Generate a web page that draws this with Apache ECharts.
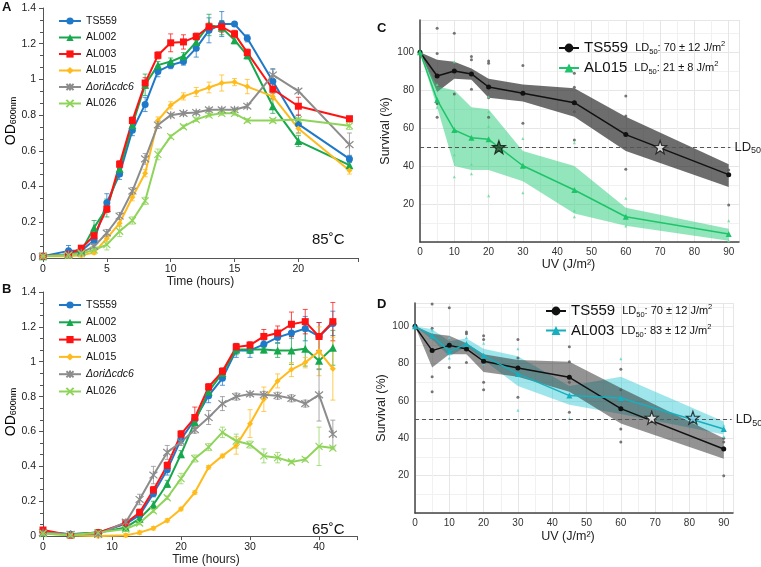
<!DOCTYPE html>
<html><head><meta charset="utf-8">
<script src="https://cdn.jsdelivr.net/npm/echarts@6/dist/echarts.min.js"></script>
<style>html,body{margin:0;padding:0;background:#fff}#c{width:761px;height:567px}</style>
</head><body><div id="c"></div>
<script>
// ---------- Panel A (85°C) ----------
const timeA = [0,2,3,4,5,6,7,8,9,10,11,12,13,14,15,16,18,20,24];
const a_TS559 = [0.01,0.04,0.04,0.10,0.31,0.47,0.715,0.86,1.045,1.08,1.10,1.175,1.275,1.31,1.31,1.23,0.99,0.75,0.555];
const a_AL002 = [0.01,0.02,0.04,0.17,0.28,0.50,0.745,0.97,1.08,1.10,1.13,1.21,1.305,1.29,1.22,1.135,0.85,0.655,0.52];
const a_AL003 = [0.01,0.02,0.055,0.125,0.275,0.525,0.77,0.98,1.135,1.205,1.21,1.24,1.295,1.295,1.255,1.15,0.945,0.85,0.78];
const a_AL015 = [0.01,0.01,0.015,0.03,0.11,0.195,0.34,0.475,0.77,0.855,0.905,0.93,0.955,0.98,0.985,0.96,0.905,0.725,0.49];
const a_DELTA = [0.01,0.02,0.03,0.065,0.14,0.235,0.375,0.555,0.745,0.80,0.81,0.815,0.83,0.83,0.83,0.85,1.025,0.935,0.635];
const a_AL026 = [0.01,0.015,0.025,0.045,0.075,0.15,0.21,0.32,0.58,0.68,0.735,0.775,0.80,0.81,0.81,0.77,0.77,0.775,0.74];
const aErr_TS559 = [0,0.03,0.01,0.02,0.05,0.03,0.03,0.04,0.03,0.02,0.02,0.05,0.07,0.07,0.01,0.02,0.07,0.05,0.02];
const aErr_AL002 = [0,0.01,0.01,0.04,0.05,0.04,0.02,0.06,0.02,0.02,0.02,0.02,0.06,0.04,0.02,0.02,0.04,0.03,0.02];
const aErr_AL003 = [0,0.01,0.01,0.02,0.02,0.02,0.02,0.03,0.02,0.05,0.04,0.02,0.02,0.03,0.02,0.02,0.05,0.05,0.01];
const aErr_AL015 = [0,0.01,0.01,0.01,0.02,0.02,0.02,0.02,0.02,0.02,0.02,0.025,0.03,0.045,0.02,0.04,0.02,0.03,0.02];
const aErr_DELTA = [0,0.01,0.01,0.01,0.02,0.02,0.02,0.03,0.02,0.01,0.01,0.01,0.01,0.01,0.01,0.01,0.03,0.01,0.065];
const aErr_AL026 = [0,0.01,0.01,0.01,0.03,0.03,0.02,0.02,0.03,0.01,0.01,0.01,0.01,0.01,0.01,0.01,0.01,0.01,0.02];

// ---------- Panel B (65°C) ----------
const timeB = [0,4,8,12,14,16,18,20,22,24,26,28,30,32,34,36,38,40,42];
const b_TS559 = [0.025,0.01,0.02,0.07,0.12,0.245,0.38,0.555,0.67,0.805,0.905,1.065,1.065,1.10,1.14,1.165,1.19,1.145,1.22];
const b_AL002 = [0.02,0.01,0.02,0.05,0.10,0.18,0.30,0.47,0.655,0.83,0.935,1.07,1.07,1.07,1.065,1.065,1.075,1.005,1.08];
const b_AL003 = [0.035,0.005,0.02,0.075,0.135,0.265,0.405,0.585,0.68,0.855,0.945,1.085,1.095,1.145,1.165,1.215,1.23,1.145,1.23];
const b_AL015 = [0.015,0.005,0.0,0.005,0.02,0.045,0.09,0.155,0.25,0.395,0.46,0.52,0.645,0.785,0.89,0.955,0.995,1.06,0.96];
const b_DELTA = [0.02,0.01,0.01,0.08,0.21,0.35,0.48,0.54,0.61,0.68,0.76,0.80,0.815,0.81,0.805,0.79,0.76,0.81,0.585];
const b_AL026 = [0.015,0.005,0.02,0.04,0.075,0.145,0.22,0.33,0.445,0.51,0.595,0.545,0.525,0.46,0.45,0.425,0.44,0.515,0.505];
const bErr_TS559 = [0.01,0.01,0.01,0.01,0.02,0.02,0.03,0.02,0.02,0.04,0.04,0.04,0.04,0.02,0.03,0.03,0.07,0.08,0.07];
const bErr_AL002 = [0.01,0.01,0.01,0.01,0.01,0.02,0.02,0.02,0.02,0.02,0.02,0.03,0.02,0.02,0.04,0.08,0.10,0.05,0.10];
const bErr_AL003 = [0.01,0.01,0.01,0.01,0.02,0.02,0.02,0.02,0.06,0.02,0.02,0.02,0.02,0.04,0.04,0.07,0.07,0.08,0.11];
const bErr_AL015 = [0.01,0.01,0.01,0.01,0.01,0.01,0.01,0.01,0.01,0.01,0.01,0.05,0.08,0.07,0.04,0.04,0.03,0.14,0.18];
const bErr_DELTA = [0.01,0.01,0.01,0.01,0.03,0.05,0.04,0.02,0.02,0.04,0.04,0.02,0.01,0.02,0.02,0.02,0.02,0.15,0.08];
const bErr_AL026 = [0.01,0.01,0.01,0.01,0.01,0.01,0.01,0.03,0.02,0.02,0.03,0.04,0.02,0.04,0.03,0.01,0.01,0.11,0.01];

// ---------- Panels C / D (UV survival) ----------
const uvDose = [0,5,10,15,20,30,45,60,90];
const c_TS559 = [100,87.5,90.1,88.6,81.7,78.4,73.4,56.6,35.5];
const c_TS559_lo = [100,79,86,85.5,76,74,66,48,29];
const c_TS559_hi = [100,96,95,91.5,86,83,81,66,41];
const c_AL015 = [100,74.9,59,55,54.1,40.2,27.4,13.3,4.2];
const c_AL015_lo = [100,71,40,38,38,32,15,8.5,0.7];
const c_AL015_hi = [100,82,80,71,70,48,40,18,7];
const c_TS559_reps = [[5,112.6],[5,99.4],[5,73],[5,65.7],[10,110],[10,78],[15,97.7],[15,96],[15,80.5],[20,95.4],[20,94.2],[20,76],[20,65.7],[30,93],[30,62.6],[45,89],[45,81.5],[45,68.7],[45,53.7],[60,77],[60,66.4],[60,38.3],[90,38],[90,35],[90,19.5]];
const c_AL015_reps = [[5,83],[5,71],[10,95],[10,46],[10,34.4],[15,41],[15,36],[20,76.6],[20,68.7],[20,61],[20,24.4],[30,54.6],[30,26],[45,52.3],[45,16.5],[45,13.3],[60,23],[60,8.4],[90,11.2],[90,0.7]];
const c_LD50 = [[23,50],[70,50]];

const d_TS559 = [100,87,89.8,87.9,81.3,77.7,72.7,55.9,34.3];
const d_TS559_lo = [100,78,85,85,75.5,73,65,48,29];
const d_TS559_hi = [100,96,95,91,85,82,81,67,40];
const d_AL003 = [100,95,86.6,90.5,84.3,74.5,62.9,61.6,45];
const d_AL003_lo = [100,93,84,89,82,68,58,53,42];
const d_AL003_hi = [100,98.5,92,93.5,88,84,68,73,49];
const d_TS559_reps = [[5,112],[5,99],[5,73],[5,65],[10,110],[10,78],[15,97],[15,96],[15,80.6],[20,95],[20,93],[20,70],[20,66],[30,93],[30,83],[30,62],[45,89],[45,81],[45,70],[45,54],[60,77],[60,66],[60,45],[60,38],[90,40],[90,38],[90,35],[90,20]];
const d_AL003_reps = [[5,98],[10,94],[10,83],[15,94],[15,89],[20,91],[20,80],[30,88],[30,55],[45,50.5],[60,82.6],[90,47],[90,41]];
const d_LD50 = [[69,51],[81,51]];

// ---------- helpers ----------
const FONT = 'Liberation Sans, Arial, sans-serif';
const COL = {TS559:'#1f78c8', AL002:'#17a84d', AL003:'#ff1212', AL015:'#ffbb1c', DELTA:'#8c8c8c', AL026:'#8fd45a'};
const SYM = {
  TS559:['circle',7], AL002:['triangle',8], AL003:['rect',7], AL015:['diamond',6],
  DELTA:['path://M0,0L10,10M10,0L0,10M5,-1L5,11',8],
  AL026:['path://M0,0L10,10M10,0L0,10',7]
};
const NAMES = {TS559:'TS559', AL002:'AL002', AL003:'AL003', AL015:'AL015', DELTA:'ΔoriΔcdc6', AL026:'AL026'};
function starPath(){
  let p='';
  for(let i=0;i<10;i++){const r=i%2?0.4:1;const a=-Math.PI/2+i*Math.PI/5;p+=(i?'L':'M')+(r*Math.cos(a)).toFixed(3)+','+(r*Math.sin(a)).toFixed(3);}
  return 'path://'+p+'Z';
}
const STAR = starPath();
const pairs = (xs, ys) => xs.map((x,i)=>[x, ys[i]]);

const series = [];
function growth(key, xs, ys, errs, gi){
  const c = COL[key];
  const stroke = SYM[key][0].startsWith('path');
  series.push({
    type:'custom', xAxisIndex:gi, yAxisIndex:gi, silent:true, z:2,
    data: xs.map((x,i)=>[x, ys[i], errs[i]]).filter(d=>d[2]>0),
    encode:{x:0,y:1},
    renderItem:(params, api)=>{
      const x=api.value(0), y=api.value(1), e=api.value(2);
      const p1=api.coord([x,y+e]), p2=api.coord([x,y-e]); const w=2.5;
      const st={stroke:c, lineWidth:1, opacity:0.75};
      return {type:'group', children:[
        {type:'line', shape:{x1:p1[0],y1:p1[1],x2:p2[0],y2:p2[1]}, style:st},
        {type:'line', shape:{x1:p1[0]-w,y1:p1[1],x2:p1[0]+w,y2:p1[1]}, style:st},
        {type:'line', shape:{x1:p2[0]-w,y1:p2[1],x2:p2[0]+w,y2:p2[1]}, style:st}
      ]};
    }
  });
  series.push({
    type:'line', name:NAMES[key], xAxisIndex:gi, yAxisIndex:gi, z:3,
    data:pairs(xs, ys), symbol:SYM[key][0], symbolSize:SYM[key][1], showAllSymbol:true,
    lineStyle:{color:c, width:2},
    itemStyle: stroke ? {color:'rgba(0,0,0,0)', borderColor:c, borderWidth:1.2} : {color:c}
  });
}
const keys = ['TS559','AL002','AL003','AL015','DELTA','AL026'];
const aData = {TS559:[a_TS559,aErr_TS559],AL002:[a_AL002,aErr_AL002],AL003:[a_AL003,aErr_AL003],AL015:[a_AL015,aErr_AL015],DELTA:[a_DELTA,aErr_DELTA],AL026:[a_AL026,aErr_AL026]};
const bData = {TS559:[b_TS559,bErr_TS559],AL002:[b_AL002,bErr_AL002],AL003:[b_AL003,bErr_AL003],AL015:[b_AL015,bErr_AL015],DELTA:[b_DELTA,bErr_DELTA],AL026:[b_AL026,bErr_AL026]};
keys.forEach(k=>growth(k, timeA, aData[k][0], aData[k][1], 0));
keys.forEach(k=>growth(k, timeB, bData[k][0], bData[k][1], 1));

function band(gi, lo, hi, fill){
  series.push({
    type:'custom', xAxisIndex:gi, yAxisIndex:gi, silent:true, z:1,
    data: uvDose.map((x,i)=>[x, lo[i], hi[i]]), encode:{x:0, y:[1,2]},
    renderItem:(params, api)=>{
      if(params.dataIndex!==0) return null;
      const pts=[];
      uvDose.forEach((x,i)=>pts.push(api.coord([x,hi[i]])));
      for(let i=uvDose.length-1;i>=0;i--) pts.push(api.coord([uvDose[i],lo[i]]));
      return {type:'polygon', shape:{points:pts}, style:{fill:fill}};
    }
  });
}
function reps(gi, data, color, sym){
  series.push({type:'scatter', xAxisIndex:gi, yAxisIndex:gi, z:2, silent:true, data:data, symbol:sym, symbolSize:3, itemStyle:{color:color}});
}
function surv(gi, name, ys, color, sym, size){
  series.push({type:'line', name:name, xAxisIndex:gi, yAxisIndex:gi, z:4, data:pairs(uvDose, ys), symbol:sym, symbolSize:size, showAllSymbol:true, lineStyle:{color:color, width:1.5}, itemStyle:{color:color}});
}
function stars(gi, pts, fills, endX){
  series.push({type:'scatter', xAxisIndex:gi, yAxisIndex:gi, z:6, silent:true,
    data: pts.map((p,i)=>({value:p, itemStyle:{color:fills[i], borderColor:'#111', borderWidth:1.2}})),
    symbol:STAR, symbolSize:13,
    markLine:{silent:true, symbol:'none', z:5,
      lineStyle:{color:'#555', type:[4,3], width:1.2},
      label:{position:'end', distance:4, formatter:'{a|LD}{b|50}', rich:{a:{fontSize:13,fontFamily:FONT,color:'#222'}, b:{fontSize:9,fontFamily:FONT,color:'#222',verticalAlign:'bottom',padding:[7,0,0,0]}}},
      data:[[{coord:[0,50]},{coord:[endX,50]}]]}
  });
}
// Panel C
band(2, c_TS559_lo, c_TS559_hi, 'rgba(40,40,40,0.68)');
band(2, c_AL015_lo, c_AL015_hi, 'rgba(40,205,120,0.5)');
reps(2, c_TS559_reps, '#555', 'circle');
reps(2, c_AL015_reps, '#5fd893', 'triangle');
surv(2, 'C_TS559', c_TS559, '#111', 'circle', 5);
surv(2, 'C_AL015', c_AL015, '#1ec46a', 'triangle', 6);
stars(2, c_LD50, ['#1e4d2b','#ffffff'], 90.5);
// Panel D
band(3, d_AL003_lo, d_AL003_hi, 'rgba(40,200,210,0.45)');
band(3, d_TS559_lo, d_TS559_hi, 'rgba(40,40,40,0.5)');
reps(3, d_TS559_reps, '#555', 'circle');
reps(3, d_AL003_reps, '#4fd0d8', 'triangle');
surv(3, 'D_TS559', d_TS559, '#111', 'circle', 5);
surv(3, 'D_AL003', d_AL003, '#17aebd', 'triangle', 6);
stars(3, d_LD50, ['#ffffff','#7fd0ea'], 92.3);

// ---------- axes ----------
const axLine = {lineStyle:{color:'#555', width:1}};
function growthX(gi, max, interval, name, pad){
  return {gridIndex:gi, type:'value', min:0, max:max, interval:interval,
    axisLine:axLine, axisTick:{show:true, length:4, lineStyle:{color:'#555'}},
    axisLabel:{fontFamily:FONT, fontSize:10.5, color:'#222', margin:6, formatter:v=>(v%interval===0?v:'')},
    splitLine:{show:false},
    name:name, nameLocation:'middle', nameGap:16, nameTextStyle:{fontFamily:FONT, fontSize:12, color:'#222', verticalAlign:'top', padding:pad}};
}
function growthY(gi){
  return {gridIndex:gi, type:'value', min:0, max:1.4, interval:0.2,
    axisLine:{show:true, lineStyle:{color:'#555'}}, axisTick:{show:true, length:4, lineStyle:{color:'#555'}},
    minorTick:{show:true, splitNumber:3, length:3, lineStyle:{color:'#555'}},
    axisLabel:{fontFamily:FONT, fontSize:10.5, color:'#222', margin:7},
    splitLine:{show:false}};
}
function survX(gi, max, name, pad, gap){
  return {gridIndex:gi, type:'value', min:0, max:max, interval:10,
    axisLine:{lineStyle:{color:'#444', width:1.5}}, axisTick:{show:false},
    axisLabel:{fontFamily:FONT, fontSize:10, color:'#333', margin:5, formatter:v=>(v%10===0&&v<=90?v:'')},
    splitLine:{show:true, lineStyle:{color:'#e6e6e6', width:1}},
    minorTick:{show:false, splitNumber:2}, minorSplitLine:{show:true, lineStyle:{color:'#f1f1f1'}},
    name:name, nameLocation:'middle', nameGap:gap, nameTextStyle:{fontFamily:FONT, fontSize:12.5, color:'#222', verticalAlign:'top', padding:pad}};
}
function survY(gi, max, gap){
  return {gridIndex:gi, type:'value', min:0, max:max, interval:20,
    axisLine:{show:true, lineStyle:{color:'#444', width:1.5}}, axisTick:{show:false},
    axisLabel:{fontFamily:FONT, fontSize:10, color:'#333', margin:6, formatter:v=>(v%20===0&&v>0&&v<=100?v:'')},
    splitLine:{show:true, lineStyle:{color:'#e6e6e6'}},
    minorTick:{show:false, splitNumber:2}, minorSplitLine:{show:true, lineStyle:{color:'#f1f1f1'}},
    name:'Survival (%)', nameLocation:'middle', nameGap:gap, nameRotate:90,
    nameTextStyle:{fontFamily:FONT, fontSize:12.5, color:'#222'}};
}

const legendRich = {
  n:{fontFamily:FONT, fontSize:10.5, color:'#111'},
  i:{fontFamily:FONT, fontSize:10.5, color:'#111', fontStyle:'italic'}
};
function growthLegend(top, gap){
  return {orient:'vertical', left:53, top:top, itemWidth:22, itemHeight:9, itemGap:gap,
    data:keys.map(k=>NAMES[k]), selectedMode:false,
    formatter:n=>(n==='ΔoriΔcdc6'?'{i|'+n+'}':'{n|'+n+'}'),
    textStyle:{rich:legendRich, lineHeight:12}};
}
const survRich = {
  big:{fontFamily:FONT, fontSize:15, color:'#111', padding:[0,7,0,0]},
  s:{fontFamily:FONT, fontSize:11, color:'#111'},
  sub:{fontFamily:FONT, fontSize:7.5, color:'#111', verticalAlign:'bottom', padding:[6,0,0,0]},
  sup:{fontFamily:FONT, fontSize:7.5, color:'#111', verticalAlign:'top', padding:[0,0,6,0]}
};
const survLabels = {
  C_TS559:['TS559','70 ± 12 J/m'], C_AL015:['AL015','21 ± 8 J/m'],
  D_TS559:['TS559','70 ± 12 J/m'], D_AL003:['AL003','83 ± 12 J/m']
};
function survLegend(names, left, top, gap){
  return {orient:'vertical', left:left, top:top, itemWidth:20, itemHeight:11, itemGap:gap, data:names, selectedMode:false,
    formatter:n=>'{big|'+survLabels[n][0]+'}{s|LD}{sub|50}{s|: '+survLabels[n][1]+'}{sup|2}',
    textStyle:{rich:survRich, lineHeight:16}};
}

const txt = (t, l, tp, size, weight) => ({type:'text', left:l, top:tp, silent:true, style:{text:t, fontFamily:FONT, fontSize:size, fontWeight:weight||'normal', fill:'#111'}});
const odTitle = (x, y) => ({type:'text', x:x, y:y, rotation:Math.PI/2, silent:true,
  style:{text:'{a|OD}{b|600nm}', align:'center', verticalAlign:'middle',
    rich:{a:{fontFamily:FONT, fontSize:14, color:'#111'}, b:{fontFamily:FONT, fontSize:9, color:'#111', verticalAlign:'bottom', padding:[5,0,0,0]}}}});

const option = {
  animation:false,
  backgroundColor:'#ffffff',
  grid:[
    {left:43, top:8, width:315, height:250},
    {left:43, top:292, width:314, height:247},
    {left:420, top:20, width:319, height:222},
    {left:415, top:303, width:318, height:210}
  ],
  xAxis:[
    growthX(0, 24.67, 5, 'Time (hours)', [0,0,0,0]),
    growthX(1, 45.5, 10, 'Time (hours)', [0,0,0,12]),
    survX(2, 93, 'UV (J/m²)', [0,22,0,0], 15),
    survX(3, 92.7, 'UV (J/m²)', [0,12,0,0], 17)
  ],
  yAxis:[ growthY(0), growthY(1), survY(2, 117, 28), survY(3, 112.5, 25) ],
  legend:[
    growthLegend(10, 4.5),
    growthLegend(294, 5.3),
    survLegend(['C_TS559','C_AL015'], 553, 35, 4),
    survLegend(['D_TS559','D_AL003'], 540, 298, 3.5)
  ],
  graphic:[
    txt('A', 2, 1, 13, 'bold'), txt('B', 2, 283, 13, 'bold'),
    txt('C', 377, 22, 13, 'bold'), txt('D', 377, 298, 13, 'bold'),
    txt('85˚C', 312, 232, 15), txt('65˚C', 312, 522, 15),
    odTitle(11, 121), odTitle(11, 412)
  ],
  series:series
};
const chart = echarts.init(document.getElementById('c'), null, {renderer:'canvas'});
chart.setOption(option);
</script></body></html>
